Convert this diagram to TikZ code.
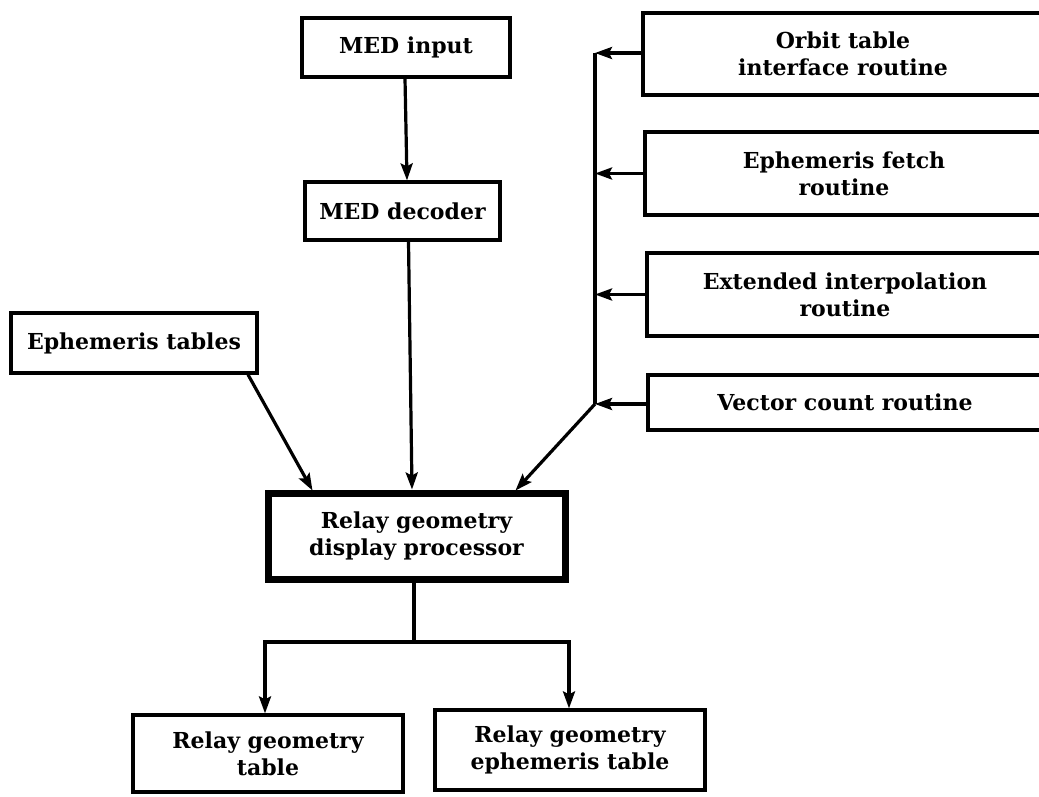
\documentclass[tikz,border=0pt]{standalone}
\usepackage{fontspec}
\setmainfont{DejaVu Serif}
\usetikzlibrary{arrows.meta}
\tikzset{
  box/.style={draw, line width=3.2pt, align=center, inner sep=0pt, font=\fontsize{22}{27}\selectfont\bfseries},
  thickbox/.style={box, line width=7pt},
  arr/.style={line width=3.2pt, -{Stealth[length=17pt,width=12pt,inset=3pt]}},
  ln/.style={line width=3.2pt}
}
\begin{document}
\begin{tikzpicture}[x=1pt,y=-1pt]
\useasboundingbox (0,0) rectangle (1039,796);
% left column
\node[box, minimum width=208pt, minimum height=59pt] (medin) at (406,47.5) {MED input};
\node[box, minimum width=195pt, minimum height=58pt] (meddec) at (402.5,211) {MED decoder};
\node[box, minimum width=246pt, minimum height=60pt] (ephtab) at (134,343) {Ephemeris tables};
\node[thickbox, minimum width=297pt, minimum height=86pt] (relay) at (416.5,536) {Relay geometry\\display processor};
% right column (cut off on the right)
\node[box, minimum width=400pt, minimum height=82pt] (orbit) at (843,54) {Orbit table\\interface routine};
\node[box, minimum width=398pt, minimum height=83pt] (fetch) at (844,173.5) {Ephemeris fetch\\routine};
\node[box, minimum width=396pt, minimum height=83pt] (interp) at (845,294.5) {Extended interpolation\\routine};
\node[box, minimum width=394pt, minimum height=55pt] (vector) at (845,402.5) {Vector count routine};
% outputs
\node[box, minimum width=270pt, minimum height=77pt] (outa) at (268,753.5) {Relay geometry\\table};
\node[box, minimum width=270pt, minimum height=80pt] (outb) at (570,750) {Relay geometry\\ephemeris table};
% bus
\coordinate (bustop) at (595,53);
\coordinate (busbot) at (595,404);
\coordinate (split) at (414,642);
\draw[ln] (bustop) -- (busbot);
\draw[arr] (orbit.west |- bustop) -- (bustop);
\draw[arr] (fetch.west) -- (fetch.west -| bustop);
\draw[arr] (interp.west) -- (interp.west -| bustop);
\draw[arr] (vector.west |- busbot) -- (busbot);
\draw[arr] (busbot) -- ([xshift=99pt,yshift=-1pt]relay.north);
% MED chain
\draw[arr] ([xshift=-1pt]medin.south) -- ([xshift=4.5pt]meddec.north);
\draw[arr] ([xshift=6pt]meddec.south) -- ([xshift=-4.5pt]relay.north);
% ephemeris tables
\draw[arr] ([xshift=114pt]ephtab.south) -- ([xshift=-104pt,yshift=-1pt]relay.north);
% outputs
\draw[ln] ([xshift=-2.5pt]relay.south) -- (split);
\draw[arr] (split) -| ([xshift=-3pt]outa.north);
\draw[arr] (split) -| ([xshift=-1pt]outb.north);
\end{tikzpicture}
\end{document}
